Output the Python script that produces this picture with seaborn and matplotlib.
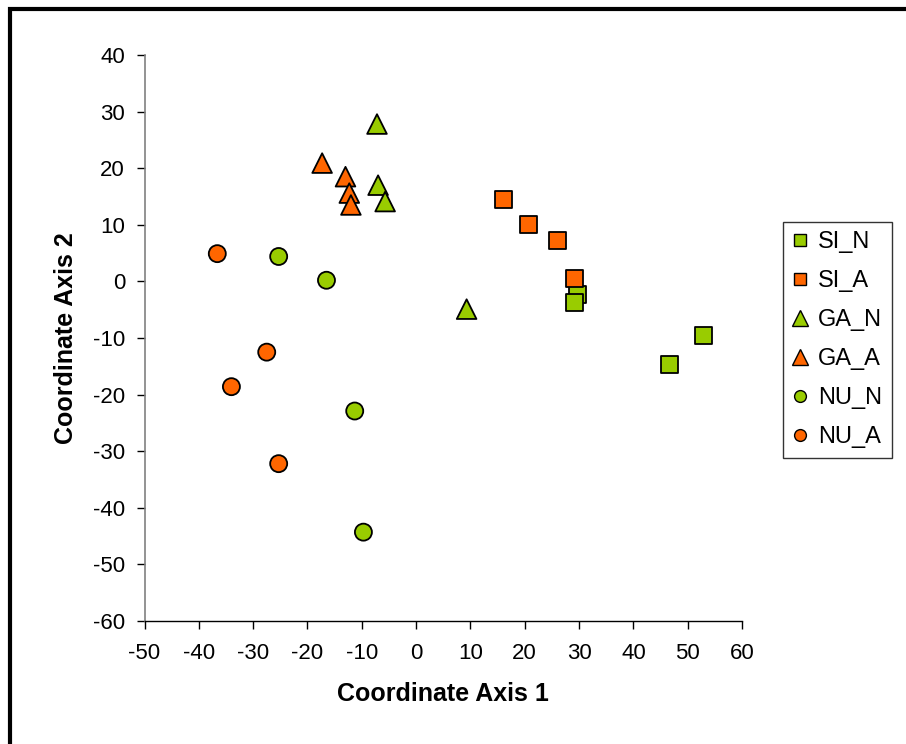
import pandas as pd
import matplotlib
matplotlib.use("Agg")
import matplotlib.pyplot as plt
from matplotlib.patches import Rectangle
import seaborn as sns

# values (Coordinate Axis 1, Coordinate Axis 2)
si_n_x = [29.8, 29.1, 46.7, 53.0]
si_n_y = [-2.3, -3.8, -14.6, -9.6]
si_a_x = [16.1, 20.7, 26.0, 29.2]
si_a_y = [14.4, 10.1, 7.2, 0.5]
ga_n_x = [-7.2, -7.0, -5.7, 9.3]
ga_n_y = [27.8, 17.0, 14.1, -4.9]
ga_a_x = [-17.3, -13.0, -12.3, -12.0]
ga_a_y = [20.9, 18.5, 15.6, 13.5]
nu_n_x = [-25.3, -16.5, -11.3, -9.7]
nu_n_y = [4.4, 0.2, -22.9, -44.3]
nu_a_x = [-36.6, -27.5, -34.0, -25.3]
nu_a_y = [4.9, -12.5, -18.6, -32.2]

groups = ["SI_N", "SI_A", "GA_N", "GA_A", "NU_N", "NU_A"]
xs = [si_n_x, si_a_x, ga_n_x, ga_a_x, nu_n_x, nu_a_x]
ys = [si_n_y, si_a_y, ga_n_y, ga_a_y, nu_n_y, nu_a_y]

GREEN = "#99CC00"
ORANGE = "#FF6600"
palette = {"SI_N": GREEN, "SI_A": ORANGE, "GA_N": GREEN,
           "GA_A": ORANGE, "NU_N": GREEN, "NU_A": ORANGE}
markers = {"SI_N": "s", "SI_A": "s", "GA_N": "^",
           "GA_A": "^", "NU_N": "o", "NU_A": "o"}
sizes = {"SI_N": 150, "SI_A": 150, "GA_N": 200,
         "GA_A": 200, "NU_N": 150, "NU_A": 150}

rows = []
for g, gx, gy in zip(groups, xs, ys):
    for a, b in zip(gx, gy):
        rows.append({"group": g, "x": a, "y": b})
df = pd.DataFrame(rows)

sns.set_style("white")
plt.rcParams["font.family"] = ["Liberation Sans", "DejaVu Sans"]
plt.rcParams["axes.unicode_minus"] = False

fig = plt.figure(figsize=(9.06, 7.44), dpi=100)
ax = fig.add_axes([0.1595, 0.1653, 0.6595, 0.7608])

sns.scatterplot(data=df, x="x", y="y", hue="group", style="group", size="group",
                hue_order=groups, style_order=groups, size_order=groups,
                palette=palette, markers=markers, sizes=sizes,
                edgecolor="black", linewidth=1.3, ax=ax, legend=True)

ax.set_xlim(-50, 60)
ax.set_ylim(-60, 40)
ax.set_xticks(range(-50, 61, 10))
ax.set_yticks(range(-60, 41, 10))
ax.tick_params(axis="both", direction="out", length=6, width=1,
               labelsize=16, colors="black", left=True, bottom=True)
ax.tick_params(axis="x", pad=10)
ax.tick_params(axis="y", pad=8)
for side in ["top", "right"]:
    ax.spines[side].set_visible(False)
ax.spines["left"].set_color("#808080")
ax.spines["bottom"].set_color("black")
ax.spines["left"].set_linewidth(1.2)
ax.spines["bottom"].set_linewidth(1.0)

ax.set_xlabel("Coordinate Axis 1", fontsize=18, fontweight="bold",
              color="black", labelpad=13)
ax.set_ylabel("Coordinate Axis 2", fontsize=18, fontweight="bold",
              color="black", labelpad=11)

handles, labels = ax.get_legend_handles_labels()
for h, lab in zip(handles, labels):
    h.set_markersize(11 if lab.startswith("GA") else 8.5)
    h.set_markeredgecolor("black")
    h.set_markeredgewidth(1.0)
leg = ax.legend(handles, labels, loc="upper left",
                bbox_to_anchor=(0.864, 0.702), bbox_transform=fig.transFigure,
                borderaxespad=0, fontsize=17, frameon=True, fancybox=False,
                labelspacing=0.72, handlelength=0.7, handletextpad=0.4,
                borderpad=0.4, labelcolor="black")
leg.get_frame().set_edgecolor("black")
leg.get_frame().set_linewidth(1.0)

# outer chart-area border (cropped at right and bottom in the reference)
fig.patches.append(Rectangle((0.0105, -0.05), 1.2, 0.9935 + 0.05 - 0.005,
                             transform=fig.transFigure, fill=False,
                             edgecolor="black", linewidth=3))

fig.savefig("out.png", dpi=100)
